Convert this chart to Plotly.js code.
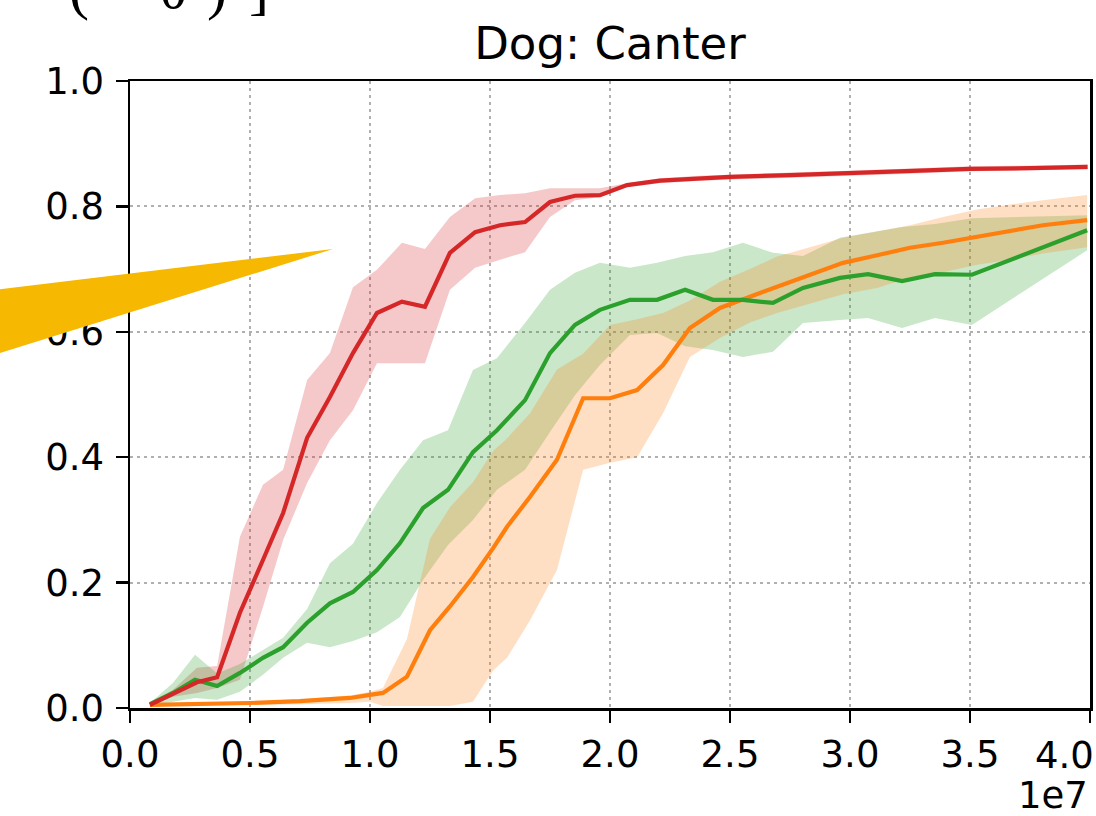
<!DOCTYPE html>
<html>
<head>
<meta charset="utf-8">
<script src="https://cdn.plot.ly/plotly-3.0.1.min.js"></script>
<style>html,body{margin:0;padding:0;background:#fff;} #chart{width:1096px;height:816px;}</style>
</head>
<body>
<div id="chart"></div>
<script>
// ---- data (environment steps, normalised score 0..1) ----
const redSteps = [0.83e6,1.79e6,2.79e6,3.63e6,4.58e6,5.54e6,6.38e6,7.38e6,8.33e6,9.29e6,10.29e6,11.33e6,12.29e6,13.33e6,14.38e6,15.42e6,16.46e6,17.50e6,18.54e6,19.58e6,20.71e6,22.08e6,23.75e6,25.0e6,27.5e6,30.0e6,32.5e6,35.0e6,37.5e6,39.9e6];
const redMean  = [0.005,0.022,0.041,0.049,0.152,0.236,0.311,0.431,0.496,0.566,0.630,0.648,0.640,0.726,0.759,0.770,0.775,0.807,0.817,0.818,0.834,0.841,0.845,0.847,0.850,0.853,0.856,0.860,0.861,0.863];
const redUpper = [0.006,0.029,0.064,0.067,0.273,0.356,0.380,0.523,0.566,0.671,0.699,0.742,0.732,0.783,0.813,0.818,0.821,0.829,0.829,0.829,0.837,0.845,0.849,0.851,0.854,0.857,0.860,0.864,0.865,0.867];
const redLower = [0.003,0.018,0.024,0.032,0.045,0.161,0.268,0.359,0.427,0.475,0.550,0.550,0.550,0.667,0.702,0.715,0.727,0.783,0.810,0.815,0.831,0.837,0.841,0.843,0.846,0.849,0.852,0.856,0.857,0.859];

const greenSteps = [0.83e6,1.79e6,2.71e6,3.63e6,4.58e6,5.54e6,6.38e6,7.38e6,8.33e6,9.29e6,10.29e6,11.25e6,12.21e6,13.25e6,14.29e6,15.29e6,16.46e6,17.50e6,18.54e6,19.58e6,20.83e6,21.96e6,23.13e6,24.29e6,25.54e6,26.79e6,28.04e6,29.58e6,30.75e6,32.17e6,33.54e6,35.08e6,39.88e6];
const greenMean  = [0.006,0.024,0.045,0.035,0.056,0.080,0.097,0.136,0.167,0.185,0.220,0.263,0.319,0.348,0.408,0.443,0.491,0.566,0.611,0.635,0.651,0.651,0.667,0.651,0.651,0.646,0.670,0.686,0.692,0.681,0.692,0.691,0.762];
const greenUpper = [0.008,0.040,0.085,0.055,0.070,0.092,0.112,0.158,0.231,0.262,0.327,0.380,0.427,0.443,0.539,0.558,0.614,0.667,0.694,0.710,0.702,0.710,0.721,0.727,0.742,0.726,0.721,0.750,0.758,0.767,0.772,0.781,0.786];
const greenLower = [0.003,0.010,0.016,0.013,0.026,0.053,0.080,0.104,0.097,0.107,0.121,0.145,0.204,0.260,0.300,0.348,0.380,0.440,0.499,0.547,0.595,0.598,0.577,0.571,0.560,0.568,0.614,0.619,0.622,0.606,0.622,0.611,0.730];

const orangeSteps = [0.83e6,2.92e6,5.0e6,7.08e6,9.17e6,10.0e6,10.54e6,11.54e6,12.5e6,13.33e6,14.29e6,15.13e6,15.71e6,16.67e6,17.79e6,18.88e6,20.0e6,21.13e6,22.21e6,23.33e6,24.58e6,25.83e6,26.96e6,28.33e6,29.71e6,31.13e6,32.5e6,33.88e6,35.29e6,36.67e6,38.04e6,39.88e6];
const orangeMean  = [0.005,0.006,0.008,0.011,0.016,0.021,0.024,0.050,0.124,0.162,0.209,0.255,0.289,0.337,0.396,0.494,0.494,0.507,0.547,0.606,0.638,0.656,0.672,0.691,0.710,0.722,0.734,0.742,0.751,0.760,0.770,0.778];
const orangeUpper = [0.007,0.008,0.010,0.014,0.020,0.026,0.032,0.110,0.270,0.320,0.360,0.410,0.430,0.470,0.540,0.565,0.611,0.620,0.630,0.650,0.680,0.700,0.720,0.735,0.750,0.760,0.770,0.783,0.795,0.803,0.810,0.818];
const orangeLower = [0.003,0.004,0.005,0.006,0.008,0.010,0.003,0.003,0.003,0.003,0.010,0.060,0.080,0.140,0.220,0.380,0.391,0.400,0.470,0.560,0.590,0.615,0.630,0.645,0.660,0.670,0.687,0.695,0.707,0.715,0.725,0.735];

const xTickVals = [0, 0.5e7, 1.0e7, 1.5e7, 2.0e7, 2.5e7, 3.0e7, 3.5e7, 4.0e7];
const xTickText = ["0.0","0.5","1.0","1.5","2.0","2.5","3.0","3.5",""];
const lastXTickText = "4.0";
const yTickVals = [0, 0.2, 0.4, 0.6, 0.8, 1.0];
const yTickText = ["0.0","0.2","0.4","0.6","0.8","1.0"];
const chartTitle = "Dog: Canter";
const offsetText = "1e7";
const fragmentGlyphs = ["(", "θ", ")", "]"];

// ---- build traces ----
function band(x, up, lo, color) {
  return {
    x: x.concat(x.slice().reverse()),
    y: up.concat(lo.slice().reverse()),
    type: 'scatter', mode: 'lines', fill: 'toself',
    fillcolor: color, line: {width: 0}, hoverinfo: 'skip', showlegend: false
  };
}
function line(x, y, color) {
  return {x: x, y: y, type: 'scatter', mode: 'lines',
          line: {color: color, width: 4.2}, showlegend: false};
}
const traces = [
  band(redSteps, redUpper, redLower, 'rgba(214,39,40,0.25)'),
  band(greenSteps, greenUpper, greenLower, 'rgba(44,160,44,0.25)'),
  band(orangeSteps, orangeUpper, orangeLower, 'rgba(255,127,14,0.25)'),
  line(orangeSteps, orangeMean, '#ff7f0e'),
  line(greenSteps, greenMean, '#2ca02c'),
  line(redSteps, redMean, '#d62728')
];

const fnt = {family: 'DejaVu Sans', size: 37, color: '#000'};
const glyphFont = {family: 'Liberation Serif', size: 60, color: '#000'};
const glyphX = [-0.053, 0.045, 0.091, 0.134];
const annotations = [
  {text: offsetText, xref: 'paper', yref: 'paper', x: 1.0, y: -0.139, xanchor: 'right', yanchor: 'middle',
   showarrow: false, font: fnt},
  {text: lastXTickText, xref: 'paper', yref: 'paper', x: 1.006, y: -0.038, xanchor: 'right', yanchor: 'top',
   showarrow: false, font: fnt}
];
fragmentGlyphs.forEach((g, i) => annotations.push(
  {text: g, xref: 'paper', yref: 'paper', x: glyphX[i], y: 1.148, xanchor: 'center', yanchor: 'middle',
   showarrow: false, font: glyphFont}));

const axisCommon = {
  tickfont: fnt, showline: true, mirror: true, linecolor: '#000', linewidth: 2.5,
  ticks: 'outside', ticklen: 12, tickwidth: 2.5, tickcolor: '#000',
  showgrid: true, gridcolor: '#b0b0b0', gridwidth: 2, griddash: '3px,4px', zeroline: false
};
const layout = {
  width: 1096, height: 816,
  margin: {l: 130, r: 6, t: 81, b: 108},
  paper_bgcolor: '#fff', plot_bgcolor: '#fff',
  showlegend: false,
  title: {text: chartTitle, font: {family: 'DejaVu Sans', size: 45, color: '#000'},
          x: 0.5, xref: 'paper', xanchor: 'center', y: 1, yref: 'paper', yanchor: 'bottom', pad: {b: 22}},
  xaxis: Object.assign({range: [0, 4.0e7], tickvals: xTickVals, ticktext: xTickText}, axisCommon),
  yaxis: Object.assign({range: [0, 1.0], tickvals: yTickVals, ticktext: yTickText, ticklabelstandoff: 4}, axisCommon),
  annotations: annotations,
  shapes: [
    {type: 'path', xref: 'paper', yref: 'paper', layer: 'above',
     path: 'M 0.2115 0.7321 L -0.15625 0.664 L -0.15625 0.5563 Z',
     fillcolor: '#f6b800', line: {width: 0}}
  ]
};
Plotly.newPlot('chart', traces, layout, {staticPlot: true});
</script>
</body>
</html>
